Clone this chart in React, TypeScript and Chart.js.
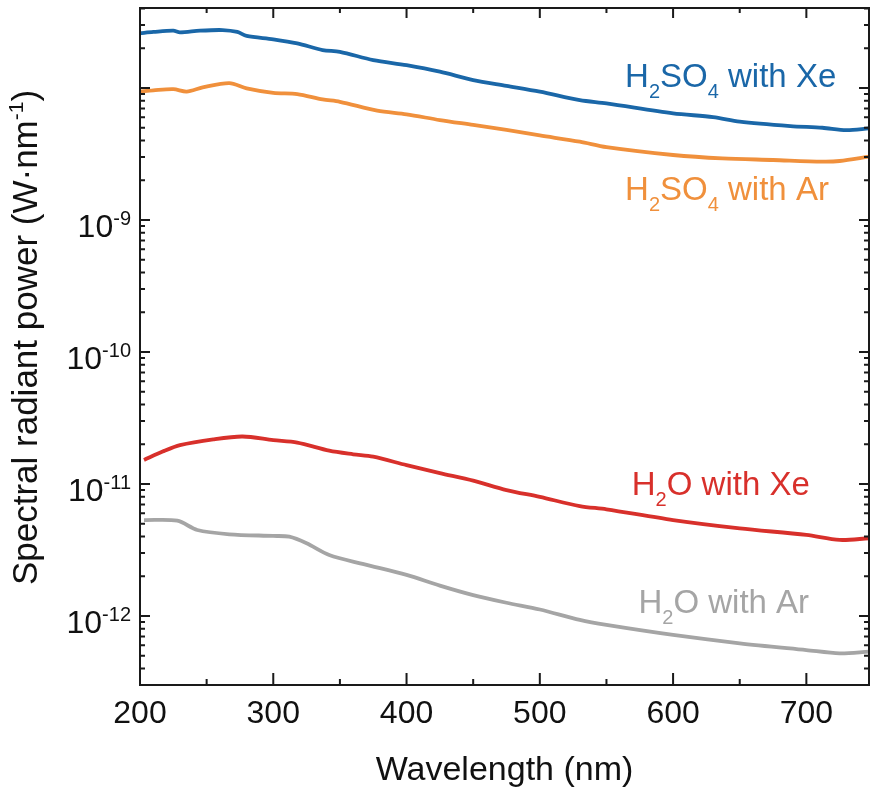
import React, { useEffect, useRef } from "react";
import { Chart, registerables } from "chart.js";

Chart.register(...registerables);

// ---- data (wavelength in nm, spectral radiant power in W·nm^-1) ----
const h2so4XeNm = [200, 210, 225, 230, 245, 262, 273, 280, 300, 318, 337, 350, 375, 400, 425, 450, 475, 500, 530, 550, 600, 630, 650, 688, 712, 730, 747];
const h2so4XeVal = [2.6e-8, 2.66e-8, 2.72e-8, 2.64e-8, 2.72e-8, 2.75e-8, 2.66e-8, 2.48e-8, 2.34e-8, 2.18e-8, 1.94e-8, 1.88e-8, 1.63e-8, 1.49e-8, 1.33e-8, 1.15e-8, 1.04e-8, 9.4e-9, 8.1e-9, 7.66e-9, 6.43e-9, 6.03e-9, 5.56e-9, 5.15e-9, 5.0e-9, 4.8e-9, 4.95e-9];

const h2so4ArNm = [200, 210, 225, 235, 247, 267, 280, 300, 318, 337, 350, 378, 400, 425, 450, 475, 500, 530, 550, 600, 637, 675, 712, 725, 747];
const h2so4ArVal = [9.4e-9, 9.6e-9, 9.8e-9, 9.4e-9, 1.01e-8, 1.09e-8, 9.95e-9, 9.2e-9, 9.0e-9, 8.2e-9, 7.87e-9, 6.73e-9, 6.32e-9, 5.72e-9, 5.25e-9, 4.81e-9, 4.37e-9, 3.92e-9, 3.56e-9, 3.11e-9, 2.93e-9, 2.85e-9, 2.77e-9, 2.8e-9, 3.02e-9];

const h2oXeNm = [203, 217, 230, 255, 277, 300, 318, 342, 360, 375, 400, 425, 450, 475, 500, 530, 550, 600, 650, 700, 725, 747];
const h2oXeVal = [1.52e-11, 1.76e-11, 1.97e-11, 2.18e-11, 2.29e-11, 2.15e-11, 2.06e-11, 1.79e-11, 1.68e-11, 1.61e-11, 1.39e-11, 1.21e-11, 1.06e-11, 9.0e-12, 7.98e-12, 6.81e-12, 6.43e-12, 5.33e-12, 4.61e-12, 4.11e-12, 3.77e-12, 3.88e-12];

const h2oArNm = [203, 228, 243, 267, 300, 312, 325, 342, 367, 400, 425, 450, 475, 500, 530, 550, 600, 650, 700, 725, 747];
const h2oArVal = [5.33e-12, 5.27e-12, 4.48e-12, 4.16e-12, 4.04e-12, 3.99e-12, 3.56e-12, 2.9e-12, 2.48e-12, 2.05e-12, 1.7e-12, 1.44e-12, 1.26e-12, 1.12e-12, 9.33e-13, 8.55e-13, 7.18e-13, 6.21e-13, 5.52e-13, 5.21e-13, 5.37e-13];

// ---- axes ----
const xMin = 200;
const xMax = 747;
const yMin = 3.0e-13;
const yMax = 4.04e-8;
const xTickLabels = [200, 300, 400, 500, 600, 700];
const xMinorStep = 50;
const yTickExponents = [-9, -10, -11, -12];
const xTitle = "Wavelength (nm)";

// ---- series labels: segments [text, kind] where kind "" | "sub" ----
const seriesNames = ["H2SO4 with Xe", "H2SO4 with Ar", "H2O with Xe", "H2O with Ar"];
const seriesLabelParts: [string, string][][] = [
  [["H", ""], ["2", "sub"], ["SO", ""], ["4", "sub"], [" with Xe", ""]],
  [["H", ""], ["2", "sub"], ["SO", ""], ["4", "sub"], [" with Ar", ""]],
  [["H", ""], ["2", "sub"], ["O with Xe", ""]],
  [["H", ""], ["2", "sub"], ["O with Ar", ""]],
];
const seriesLabelNm = [564, 564, 569, 574];
const seriesLabelVal = [1.02e-8, 1.42e-9, 8.26e-12, 1.05e-12];
const seriesColors = ["#1a67a8", "#f0903c", "#d8302b", "#a5a5a5"];

const FONT = '"Liberation Sans", Arial, Helvetica, sans-serif';

type Part = { text: string; size: number; dy: number };

function drawParts(ctx: CanvasRenderingContext2D, parts: Part[], x: number, y: number, align: "left" | "right" | "center") {
  let total = 0;
  const widths = parts.map((p) => {
    ctx.font = `${p.size}px ${FONT}`;
    const w = ctx.measureText(p.text).width;
    total += w;
    return w;
  });
  let cx = align === "left" ? x : align === "right" ? x - total : x - total / 2;
  ctx.textAlign = "left";
  ctx.textBaseline = "alphabetic";
  parts.forEach((p, i) => {
    ctx.font = `${p.size}px ${FONT}`;
    ctx.fillText(p.text, cx, y + p.dy);
    cx += widths[i];
  });
}

const overlayPlugin = {
  id: "overlay",
  afterDraw(chart: any) {
    const ctx: CanvasRenderingContext2D = chart.ctx;
    const { left, right, top, bottom } = chart.chartArea;
    const xs = chart.scales.x;
    const ys = chart.scales.y;
    ctx.save();
    ctx.strokeStyle = "#1a1a1a";
    ctx.fillStyle = "#111111";
    ctx.lineWidth = 2;

    // frame
    ctx.strokeRect(left, top, right - left, bottom - top);

    // x ticks (inward, top and bottom)
    for (let v = xMin; v <= xMax; v += xMinorStep) {
      const px = xs.getPixelForValue(v);
      const major = v % 100 === 0;
      const lb = major ? 12 : 6;
      const lt = major ? 10 : 5;
      ctx.beginPath();
      ctx.moveTo(px, bottom);
      ctx.lineTo(px, bottom - lb);
      ctx.moveTo(px, top);
      ctx.lineTo(px, top + lt);
      ctx.stroke();
    }
    // y ticks (log, inward, left and right)
    for (let e = -13; e <= -7; e++) {
      for (let m = 1; m <= 9; m++) {
        const v = m * Math.pow(10, e);
        if (v < yMin || v > yMax) continue;
        const py = ys.getPixelForValue(v);
        const l = m === 1 ? 10 : 5;
        ctx.beginPath();
        ctx.moveTo(left, py);
        ctx.lineTo(left + l, py);
        ctx.moveTo(right, py);
        ctx.lineTo(right - l, py);
        ctx.stroke();
      }
    }

    // x tick labels
    ctx.fillStyle = "#111111";
    xTickLabels.forEach((v) => {
      const px = xs.getPixelForValue(v);
      drawParts(ctx, [{ text: String(v), size: 32, dy: 0 }], px, bottom + 38, "center");
    });
    // x title
    drawParts(ctx, [{ text: xTitle, size: 34, dy: 0 }], (left + right) / 2, bottom + 95, "center");

    // y tick labels 10^n
    yTickExponents.forEach((e) => {
      const py = ys.getPixelForValue(Math.pow(10, e));
      drawParts(
        ctx,
        [
          { text: "10", size: 32, dy: 0 },
          { text: String(e), size: 20, dy: -12 },
        ],
        left - 9,
        py + 17,
        "right"
      );
    });

    // y title (rotated)
    ctx.save();
    ctx.translate(37, (top + bottom) / 2 - 9);
    ctx.rotate(-Math.PI / 2);
    drawParts(
      ctx,
      [
        { text: "Spectral radiant power (W·nm", size: 35, dy: 0 },
        { text: "-1", size: 21, dy: -14 },
        { text: ")", size: 35, dy: 0 },
      ],
      0,
      0,
      "center"
    );
    ctx.restore();

    // series annotations
    seriesLabelParts.forEach((segs, i) => {
      const px = xs.getPixelForValue(seriesLabelNm[i]);
      const py = ys.getPixelForValue(seriesLabelVal[i]);
      ctx.fillStyle = seriesColors[i];
      const parts: Part[] = segs.map(([t, k]) => (k === "sub" ? { text: t, size: 20, dy: 11 } : { text: t, size: 33, dy: 0 }));
      drawParts(ctx, parts, px, py, "left");
    });

    ctx.restore();
  },
};

function toPoints(xsArr: number[], ysArr: number[]) {
  return xsArr.map((x, i) => ({ x, y: ysArr[i] }));
}

export default function App() {
  const canvasRef = useRef<HTMLCanvasElement | null>(null);

  useEffect(() => {
    const canvas = canvasRef.current;
    if (!canvas) return;
    const seriesData = [
      toPoints(h2so4XeNm, h2so4XeVal),
      toPoints(h2so4ArNm, h2so4ArVal),
      toPoints(h2oXeNm, h2oXeVal),
      toPoints(h2oArNm, h2oArVal),
    ];
    const chart = new Chart(canvas, {
      type: "line",
      data: {
        datasets: seriesData.map((d, i) => ({
          label: seriesNames[i],
          data: d,
          borderColor: seriesColors[i],
          backgroundColor: seriesColors[i],
          borderWidth: 3.8,
          pointRadius: 0,
          tension: 0.3,
          fill: false,
        })),
      },
      options: {
        responsive: false,
        animation: false,
        devicePixelRatio: 1,
        layout: { padding: { left: 140, top: 8, right: 8, bottom: 105 } },
        plugins: { legend: { display: false }, tooltip: { enabled: false }, title: { display: false } },
        scales: {
          x: { type: "linear", min: xMin, max: xMax, display: false },
          y: { type: "logarithmic", min: yMin, max: yMax, display: false },
        },
      },
      plugins: [overlayPlugin],
    });
    return () => chart.destroy();
  }, []);

  return (
    <div style={{ position: "fixed", left: 0, top: 0, width: 877, height: 790, background: "#ffffff" }}>
      <canvas ref={canvasRef} width={877} height={790} style={{ display: "block", width: 877, height: 790 }} />
    </div>
  );
}
